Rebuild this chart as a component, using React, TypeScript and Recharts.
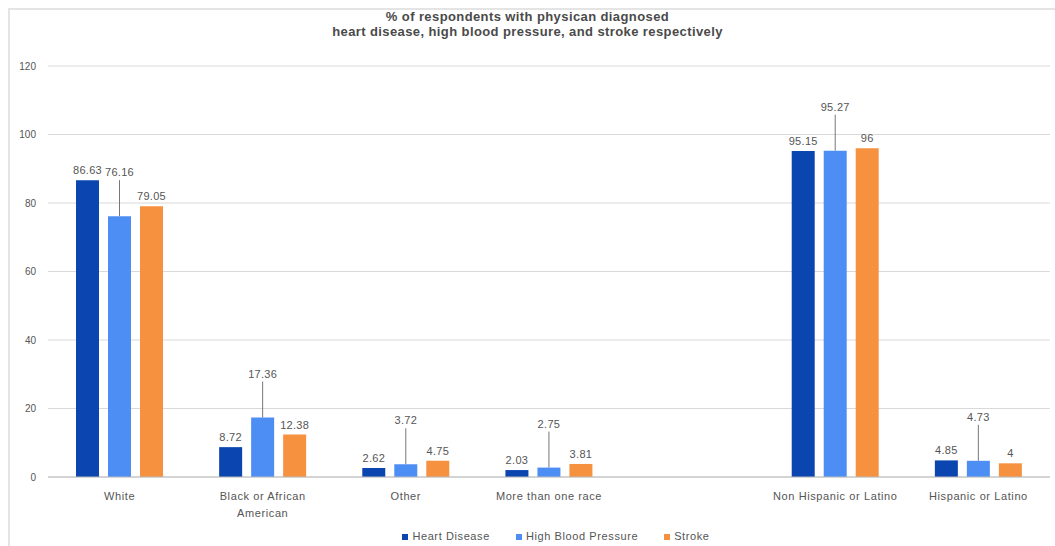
import React from 'react';
import {
  BarChart,
  Bar,
  XAxis,
  YAxis,
  CartesianGrid,
  Legend,
  LabelList,
} from 'recharts';

// categories (empty slot keeps the gap between race and ethnicity groups)
const categories = [
  'White',
  'Black or African American',
  'Other',
  'More than one race',
  '',
  'Non Hispanic or Latino',
  'Hispanic or Latino',
];
const heartDisease = [86.63, 8.72, 2.62, 2.03, null, 95.15, 4.85];
const highBloodPressure = [76.16, 17.36, 3.72, 2.75, null, 95.27, 4.73];
const stroke = [79.05, 12.38, 4.75, 3.81, null, 96, 4];
const yTicks = [0, 20, 40, 60, 80, 100, 120];

const data = categories.map((name, i) => ({
  name,
  heart: heartDisease[i],
  hbp: highBloodPressure[i],
  stroke: stroke[i],
}));

const FONT = 'Arial, "Liberation Sans", sans-serif';
const TEXT_COLOR = '#555';
const MAX_CHARS = 23;

// greedy word wrap by character count
const wrapWords = (s: string) => {
  const lines: string[] = [];
  let cur = '';
  s.split(' ').forEach((w) => {
    const next = cur ? cur + ' ' + w : w;
    if (next.length > MAX_CHARS && cur) {
      lines.push(cur);
      cur = w;
    } else {
      cur = next;
    }
  });
  if (cur) lines.push(cur);
  return lines;
};

const CategoryTick = (props: any) => {
  const { x, y, payload } = props;
  const lines = wrapWords(String(payload.value || ''));
  return (
    <text
      x={x}
      y={y + 15}
      textAnchor="middle"
      fontSize={11}
      fontFamily={FONT}
      letterSpacing={0.6}
      fill={TEXT_COLOR}
    >
      {lines.map((l, i) => (
        <tspan key={i} x={x} dy={i === 0 ? 0 : 17}>
          {l}
        </tspan>
      ))}
    </text>
  );
};

// middle series: label lifted above the bar with a leader line
const LiftedLabel = (props: any) => {
  const { x, y, width, value } = props;
  if (value == null) return null;
  const cx = x + width / 2;
  const lift = 40;
  return (
    <g>
      <line x1={cx} y1={y} x2={cx} y2={y - lift + 4} stroke="#777" strokeWidth={1} />
      <text
        x={cx}
        y={y - lift}
        textAnchor="middle"
        fontSize={11}
        fontFamily={FONT}
        letterSpacing={0.3}
        fill={TEXT_COLOR}
      >
        {value}
      </text>
    </g>
  );
};

const labelStyle = { fontSize: 11, fontFamily: FONT, fill: TEXT_COLOR, letterSpacing: 0.3 };

export default function App() {
  return (
    <div style={{ position: 'absolute', left: 0, top: 0, width: 1055, height: 546, background: '#fff' }}>
      <div
        style={{
          position: 'absolute',
          left: 8,
          top: 8,
          right: 0,
          bottom: 0,
          borderLeft: '2px solid #e4e4e4',
          borderTop: '2px solid #e4e4e4',
        }}
      />
      <div
        style={{
          position: 'absolute',
          left: 0,
          top: 9,
          width: 1055,
          textAlign: 'center',
          fontFamily: FONT,
          fontSize: 13,
          fontWeight: 'bold',
          letterSpacing: 0.4,
          color: '#4a4a4a',
          lineHeight: '15px',
        }}
      >
        % of respondents with physican diagnosed
        <br />
        heart disease, high blood pressure, and stroke respectively
      </div>
      <BarChart
        width={1055}
        height={546}
        data={data}
        margin={{ top: 66, right: 5, bottom: 17, left: 8 }}
        barGap={9}
        barSize={23}
      >
        <CartesianGrid vertical={false} stroke="#d9d9d9" />
        <XAxis
          dataKey="name"
          tick={<CategoryTick />}
          tickLine={false}
          axisLine={{ stroke: '#bbb' }}
          interval={0}
          height={40}
        />
        <YAxis
          domain={[0, 120]}
          ticks={yTicks}
          width={40}
          tickLine={false}
          axisLine={false}
          tick={{ fontSize: 10, fontFamily: FONT, fill: TEXT_COLOR }}
          dx={-4}
        />
        <Legend
          verticalAlign="bottom"
          align="center"
          iconType="square"
          iconSize={6}
          wrapperStyle={{ fontSize: 11, fontFamily: FONT, bottom: 4, paddingLeft: 40 }}
          formatter={(v: string) => (
            <span style={{ color: TEXT_COLOR, letterSpacing: 0.6, marginRight: 16 }}>{v}</span>
          )}
        />
        <Bar dataKey="heart" name="Heart Disease" fill="#0b46b0" isAnimationActive={false}>
          <LabelList dataKey="heart" position="top" offset={6} style={labelStyle} />
        </Bar>
        <Bar dataKey="hbp" name="High Blood Pressure" fill="#4d8ef5" isAnimationActive={false}>
          <LabelList dataKey="hbp" content={<LiftedLabel />} />
        </Bar>
        <Bar dataKey="stroke" name="Stroke" fill="#f6923f" isAnimationActive={false}>
          <LabelList dataKey="stroke" position="top" offset={6} style={labelStyle} />
        </Bar>
      </BarChart>
    </div>
  );
}
